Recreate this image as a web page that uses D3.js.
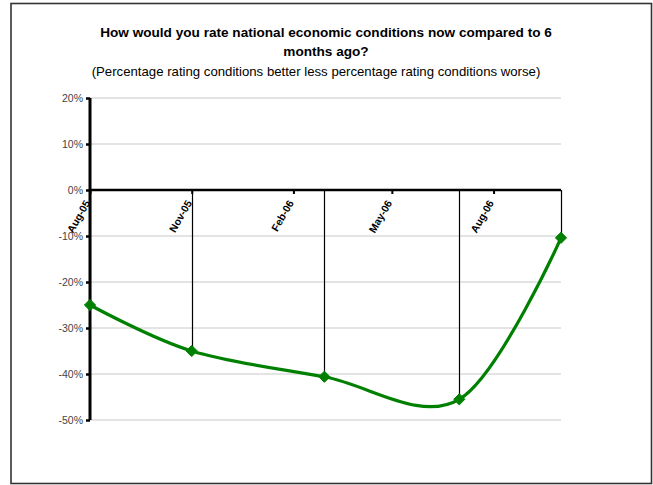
<!DOCTYPE html>
<html><head><meta charset="utf-8">
<script src="https://cdn.jsdelivr.net/npm/d3@7"></script>
<style>body{margin:0;background:#fff}svg{display:block}</style>
</head><body>
<svg id="c" width="653" height="485"></svg>
<script>
const dates = ["2005-08-01","2005-11-01","2006-03-01","2006-07-01","2006-10-01"];
const values = [-25, -35, -40.6, -45.5, -10.4];
const tickDates = ["2005-08-01","2005-11-01","2006-02-01","2006-05-01","2006-08-01"];
const yTicks = [20,10,0,-10,-20,-30,-40,-50];
const titleLines = ["How would you rate national economic conditions now compared to 6","months ago?"];
const subtitle = "(Percentage rating conditions better less percentage rating conditions worse)";

const parse = d3.timeParse("%Y-%m-%d");
const fmt = d3.timeFormat("%b-%y");
const svg = d3.select("#c");
const L=90, R=561, T=98, B=420;
const x = d3.scaleTime().domain([parse(dates[0]), parse(dates[dates.length-1])]).range([L,R]);
const y = d3.scaleLinear().domain([-50,20]).range([B,T]);
const data = dates.map((d,i)=>({d:parse(d), v:values[i]}));

// frame
svg.append("rect").attr("x",11).attr("y",3.5).attr("width",640.5).attr("height",480).attr("fill","none").attr("stroke","#333").attr("stroke-width",1.6);

// titles
svg.append("g").selectAll("text").data(titleLines).join("text")
  .attr("x",326).attr("y",(d,i)=>37+i*19).attr("text-anchor","middle")
  .style("font-family","Liberation Sans, Arial, sans-serif").style("font-weight","bold").style("font-size","13.6px").attr("fill","#000").text(d=>d);
svg.append("text").attr("x",316).attr("y",76).attr("text-anchor","middle")
  .style("font-family","Liberation Sans, Arial, sans-serif").style("font-size","13.2px").attr("fill","#000").text(subtitle);

// gridlines
svg.append("g").selectAll("line").data(yTicks.filter(t=>t!==0)).join("line")
  .attr("x1",L).attr("x2",R).attr("y1",d=>y(d)).attr("y2",d=>y(d)).attr("stroke","#c8c8c8").attr("stroke-width",1);

// y axis
const yAxis = d3.axisLeft(y).tickValues(yTicks).tickFormat(d=>d+"%").tickSize(4).tickPadding(3);
const gy = svg.append("g").attr("transform",`translate(${L},0)`).call(yAxis);
gy.select(".domain").attr("stroke","#000").attr("stroke-width",3).attr("d",`M0,${T}V${B}`);
gy.selectAll(".tick line").attr("stroke","#000").attr("stroke-width",2.5);
gy.selectAll(".tick text").style("font-family","Liberation Sans, Arial, sans-serif").style("font-size","10.5px").attr("fill","#444");

// drop lines
svg.append("g").selectAll("line").data(data).join("line")
  .attr("x1",d=>Math.round(x(d.d))+0.5).attr("x2",d=>Math.round(x(d.d))+0.5).attr("y1",y(0)).attr("y2",d=>y(d.v))
  .attr("stroke","#000").attr("stroke-width",1.2);

// x axis at 0
const xAxis = d3.axisBottom(x).tickValues(tickDates.map(parse)).tickFormat(fmt).tickSize(4).tickPadding(2);
const gx = svg.append("g").attr("transform",`translate(0,${y(0)})`).call(xAxis);
gx.select(".domain").attr("stroke","#000").attr("stroke-width",2.5).attr("d",`M${L},0H${R}`);
gx.selectAll(".tick line").attr("stroke","#000").attr("stroke-width",2);
gx.selectAll(".tick text").style("font-family","Liberation Sans, Arial, sans-serif").style("font-size","10.5px").style("font-weight","bold").attr("fill","#000")
  .attr("text-anchor","end").attr("dy","0.35em").attr("y",0)
  .attr("transform","translate(-3,11) rotate(-60)");

// line
const line = d3.line().x(d=>x(d.d)).y(d=>y(d.v)).curve(d3.curveCardinal.tension(0));
svg.append("path").datum(data).attr("d",line).attr("fill","none").attr("stroke","#008000").attr("stroke-width",3.2);

// markers
svg.append("g").selectAll("path").data(data).join("path")
  .attr("transform",d=>`translate(${x(d.d)},${y(d.v)})`)
  .attr("d",d3.symbol(d3.symbolDiamond2,80)).attr("fill","#008000").attr("stroke","#008000").attr("stroke-width",1);
</script>
</body></html>
